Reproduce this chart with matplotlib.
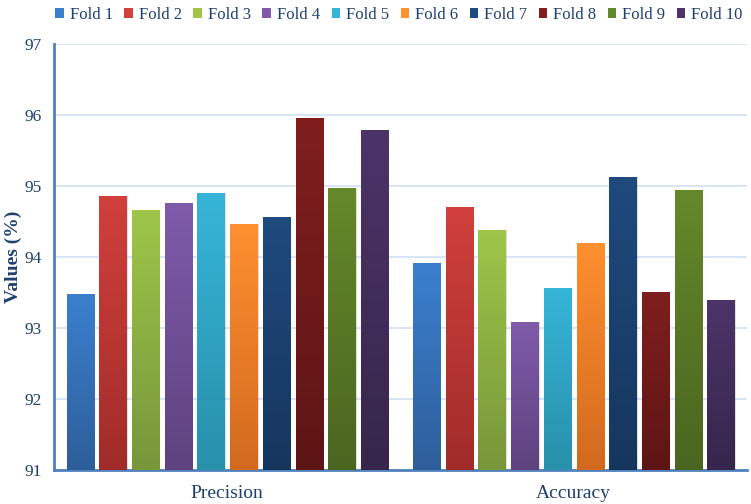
import numpy as np
import matplotlib
matplotlib.use("Agg")
import matplotlib.pyplot as plt
from matplotlib.colors import LinearSegmentedColormap
from matplotlib.patches import Patch

categories = ["Precision", "Accuracy"]
folds = ["Fold 1", "Fold 2", "Fold 3", "Fold 4", "Fold 5",
         "Fold 6", "Fold 7", "Fold 8", "Fold 9", "Fold 10"]
precision = [93.48, 94.86, 94.66, 94.76, 94.90, 94.47, 94.57, 95.96, 94.97, 95.79]
accuracy = [93.92, 94.71, 94.38, 93.08, 93.57, 94.20, 95.12, 93.51, 94.95, 93.39]
yticks = [91, 92, 93, 94, 95, 96, 97]

top_colors = ["#3B80CF", "#D1403C", "#9FC64A", "#7F5BAA", "#36B5D8",
              "#FF9030", "#1F4A7E", "#801E1E", "#65892A", "#4C3469"]
bot_colors = ["#2E5E9A", "#A02C2A", "#77963A", "#5E427E", "#2890AA",
              "#D2691E", "#16365E", "#5E1515", "#4A6520", "#36264B"]

plt.rcParams["font.family"] = ["Liberation Serif", "DejaVu Serif"]
text_color = "#1F3F6F"

fig = plt.figure(figsize=(7.51, 5.04), dpi=100)
ax = fig.add_axes([54/751, 34/504, 693/751, 426/504])

ymin, ymax = 91, 97
pitch = 0.0944
width = 0.078
x = np.arange(len(categories))
series = list(zip(precision, accuracy))

grad = np.linspace(0, 1, 256).reshape(-1, 1)
for i in range(len(folds)):
    vals = series[i]
    xs = x + (i - 4.5) * pitch
    cmap = LinearSegmentedColormap.from_list("g%d" % i, [bot_colors[i], top_colors[i]])
    # shadow
    ax.bar(xs + 0.004, [v - ymin for v in vals], width=width, bottom=ymin,
           color="#000000", alpha=0.12, zorder=2, linewidth=0)
    bars = ax.bar(xs, [v - ymin for v in vals], width=width, bottom=ymin,
                  color="none", linewidth=0, zorder=3)
    for b in bars:
        x0 = b.get_x()
        h = b.get_height()
        im = ax.imshow(grad, cmap=cmap, aspect="auto", origin="lower",
                       extent=[x0, x0 + width, ymin, ymin + h], zorder=3)
        im.set_clip_path(b)

ax.set_xlim(-0.5, 1.5)
ax.set_ylim(ymin, ymax)
ax.set_yticks(yticks)
ax.set_xticks(x)
ax.set_xticklabels(categories, fontsize=14, color=text_color)
ax.tick_params(axis="y", labelsize=12.5, labelcolor=text_color, length=0, pad=9)
ax.tick_params(axis="x", length=0, pad=11)
ax.yaxis.grid(True, color="#D6E3F3", linewidth=1.3, zorder=0)
ax.set_axisbelow(True)
for s in ["top", "right"]:
    ax.spines[s].set_visible(False)
for s in ["left", "bottom"]:
    ax.spines[s].set_color("#4F81BD")
    ax.spines[s].set_linewidth(2)
ax.set_ylabel("Values (%)", fontsize=14, fontweight="bold", color=text_color)
ax.yaxis.set_label_coords((22 - 54) / 693, 0.5)

handles = [Patch(facecolor=top_colors[i], edgecolor="none") for i in range(len(folds))]
fig.legend(handles, folds, loc="center", bbox_to_anchor=(399/751, 1 - 15/504), ncol=10,
           frameon=False, fontsize=12, handlelength=0.5, handleheight=0.5,
           handletextpad=0.36, columnspacing=0.7, labelcolor=text_color,
           borderaxespad=0, borderpad=0)

fig.savefig("out.png", dpi=100)
